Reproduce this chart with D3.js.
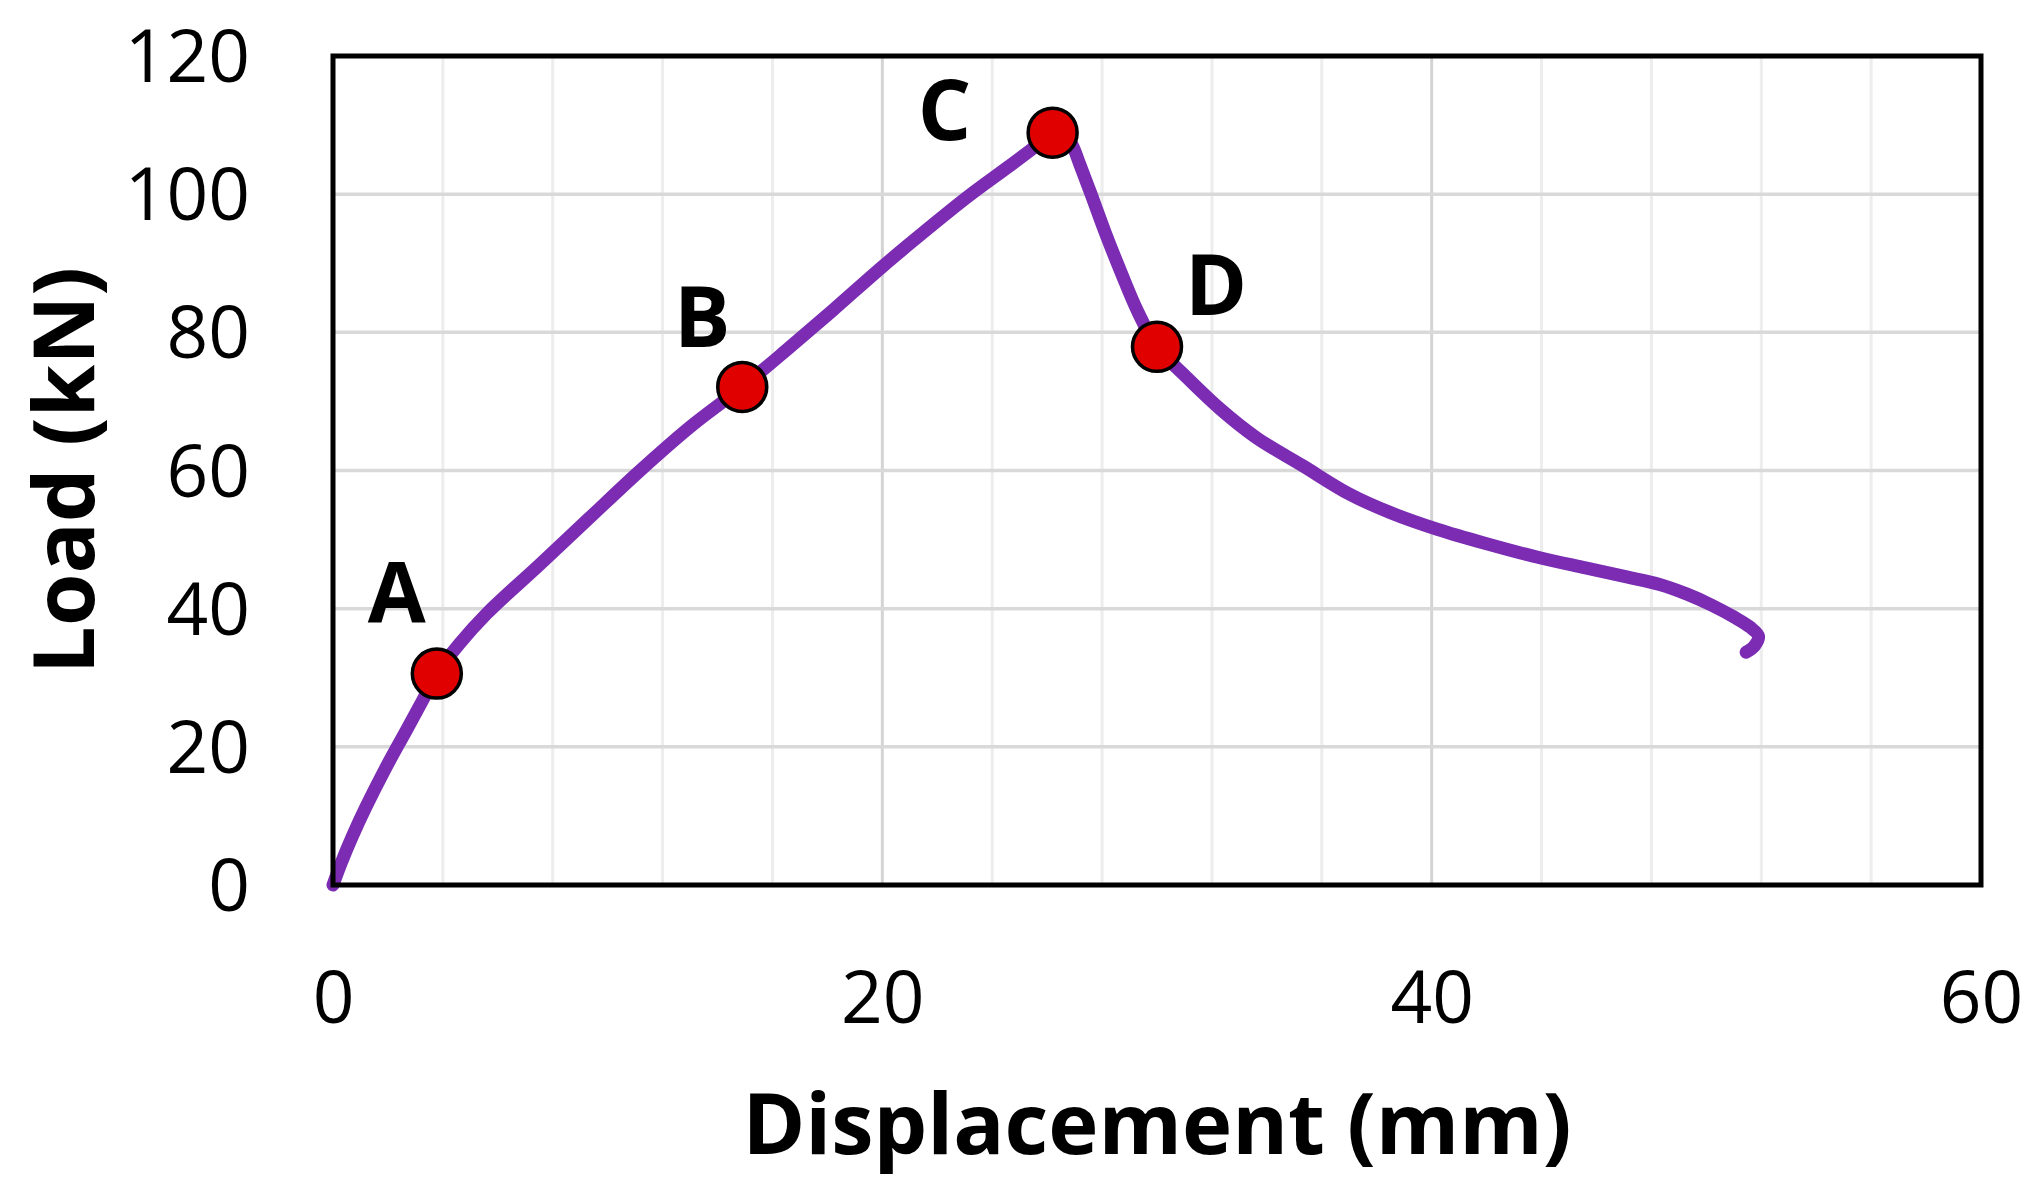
<!DOCTYPE html>
<html><head><meta charset="utf-8">
<script src="https://cdn.jsdelivr.net/npm/d3@7"></script>
<style>html,body{margin:0;padding:0;background:#fff;} svg{display:block;}</style>
</head><body>
<svg id="chart" width="2038" height="1189"></svg>
<script>
// ---- data ----
const dispMM = [0, 0.3, 0.7, 1.2, 1.9, 2.7, 3.3, 3.78, 4.6, 5.6, 7.5, 9.3, 11.1, 13.0, 14.9,
  16.5, 18.2, 20.0, 21.6, 23.1, 24.6, 25.6, 26.2, 26.6, 26.9, 27.2, 27.6, 28.1, 28.7, 29.3, 30.0,
  31.1, 32.3, 33.6, 35.3, 37.0, 38.5, 40.2, 42.0, 43.9, 45.6, 47.1, 48.3, 49.3, 50.2, 51.0, 51.6, 51.9, 51.75, 51.45];
const loadKN = [0, 3.2, 7.0, 11.3, 16.8, 22.6, 27.0, 30.6, 34.9, 39.3, 46.3, 53.0, 59.7, 66.3, 72.1,
  77.4, 83.2, 89.5, 94.8, 99.6, 104.0, 107.0, 108.9, 108.8, 107.2, 104.2, 100.0, 94.6, 88.6, 83.0, 77.9,
  73.4, 68.9, 64.8, 60.7, 56.6, 53.9, 51.5, 49.4, 47.4, 45.9, 44.6, 43.5, 42.1, 40.5, 38.8, 37.3, 36.0, 34.6, 33.7];
const keyPointLabels = ["A", "B", "C", "D"];
const keyPointDisp = [3.78, 14.9, 26.2, 30.0];
const keyPointLoad = [30.6, 72.1, 108.9, 77.9];
const xTickValues = [0, 20, 40, 60];
const yTickValues = [0, 20, 40, 60, 80, 100, 120];
const xGridValues = [4, 8, 12, 16, 20, 24, 28, 32, 36, 40, 44, 48, 52, 56];
const xTitle = "Displacement (mm)";
const yTitle = "Load (kN)";

// ---- layout ----
const plot = {left: 333, right: 1981, top: 56, bottom: 885};
const labelOffsets = [[-40, -52], [-40, -40], [-108, 7], [59, -32]];

const svg = d3.select("#chart");
const x = d3.scaleLinear().domain([0, 60]).range([plot.left, plot.right]);
const y = d3.scaleLinear().domain([0, 120]).range([plot.bottom, plot.top]);

// grid
const g = svg.append("g");
g.selectAll("line.vg").data(xGridValues).enter().append("line")
  .attr("x1", d => x(d)).attr("x2", d => x(d))
  .attr("y1", plot.top).attr("y2", plot.bottom)
  .attr("stroke", d => d % 20 === 0 ? "#d4d4d4" : "#ededed")
  .attr("stroke-width", 3);
g.selectAll("line.hg").data(yTickValues.filter(d => d > 0 && d < 120)).enter().append("line")
  .attr("x1", plot.left).attr("x2", plot.right)
  .attr("y1", d => y(d)).attr("y2", d => y(d))
  .attr("stroke", "#d9d9d9").attr("stroke-width", 3.5);

// axes (labels only)
const font = "'Open Sans', sans-serif";
const xAxis = d3.axisBottom(x).tickValues(xTickValues).tickSize(0).tickPadding(0).tickFormat(d3.format("d"));
const xa = svg.append("g").attr("transform", `translate(0,${plot.bottom})`).call(xAxis);
xa.select(".domain").remove();
xa.selectAll("text").attr("font-family", font).attr("font-size", 73).attr("fill", "#000")
  .attr("dy", null).attr("y", 138);

const yAxis = d3.axisLeft(y).tickValues(yTickValues).tickSize(0).tickPadding(0).tickFormat(d3.format("d"));
const ya = svg.append("g").attr("transform", `translate(${plot.left},0)`).call(yAxis);
ya.select(".domain").remove();
ya.selectAll("text").attr("font-family", font).attr("font-size", 73).attr("fill", "#000")
  .attr("x", 250 - plot.left).attr("dy", "0.35em");

// curve
const pts = dispMM.map((d, i) => [d, loadKN[i]]);
const line = d3.line().x(d => x(d[0])).y(d => y(d[1])).curve(d3.curveCatmullRom.alpha(0.5));
svg.append("path").attr("d", line(pts)).attr("fill", "none")
  .attr("stroke", "#7b2cb3").attr("stroke-width", 13)
  .attr("stroke-linecap", "round").attr("stroke-linejoin", "round");

// frame
svg.append("rect").attr("x", plot.left).attr("y", plot.top)
  .attr("width", plot.right - plot.left).attr("height", plot.bottom - plot.top)
  .attr("fill", "none").attr("stroke", "#000").attr("stroke-width", 5);

// markers
const kp = keyPointLabels.map((l, i) => ({l, d: keyPointDisp[i], v: keyPointLoad[i], o: labelOffsets[i]}));
svg.selectAll("circle.kp").data(kp).enter().append("circle")
  .attr("cx", d => x(d.d)).attr("cy", d => y(d.v)).attr("r", 24.5)
  .attr("fill", "#e00000").attr("stroke", "#000").attr("stroke-width", 3.5);
svg.selectAll("text.kp").data(kp).enter().append("text")
  .attr("x", d => x(d.d) + d.o[0]).attr("y", d => y(d.v) + d.o[1])
  .attr("text-anchor", "middle").attr("font-family", font).attr("font-weight", 700)
  .attr("font-size", 84).attr("fill", "#000").text(d => d.l);

// titles
svg.append("text").attr("x", (plot.left + plot.right) / 2).attr("y", 1154)
  .attr("text-anchor", "middle").attr("font-family", font).attr("font-weight", 700)
  .attr("font-size", 85).attr("fill", "#000").text(xTitle);
svg.append("text").attr("transform", `translate(94,${(plot.top + plot.bottom) / 2}) rotate(-90)`)
  .attr("text-anchor", "middle").attr("font-family", font).attr("font-weight", 700)
  .attr("font-size", 85).attr("fill", "#000").text(yTitle);
</script>
</body></html>
